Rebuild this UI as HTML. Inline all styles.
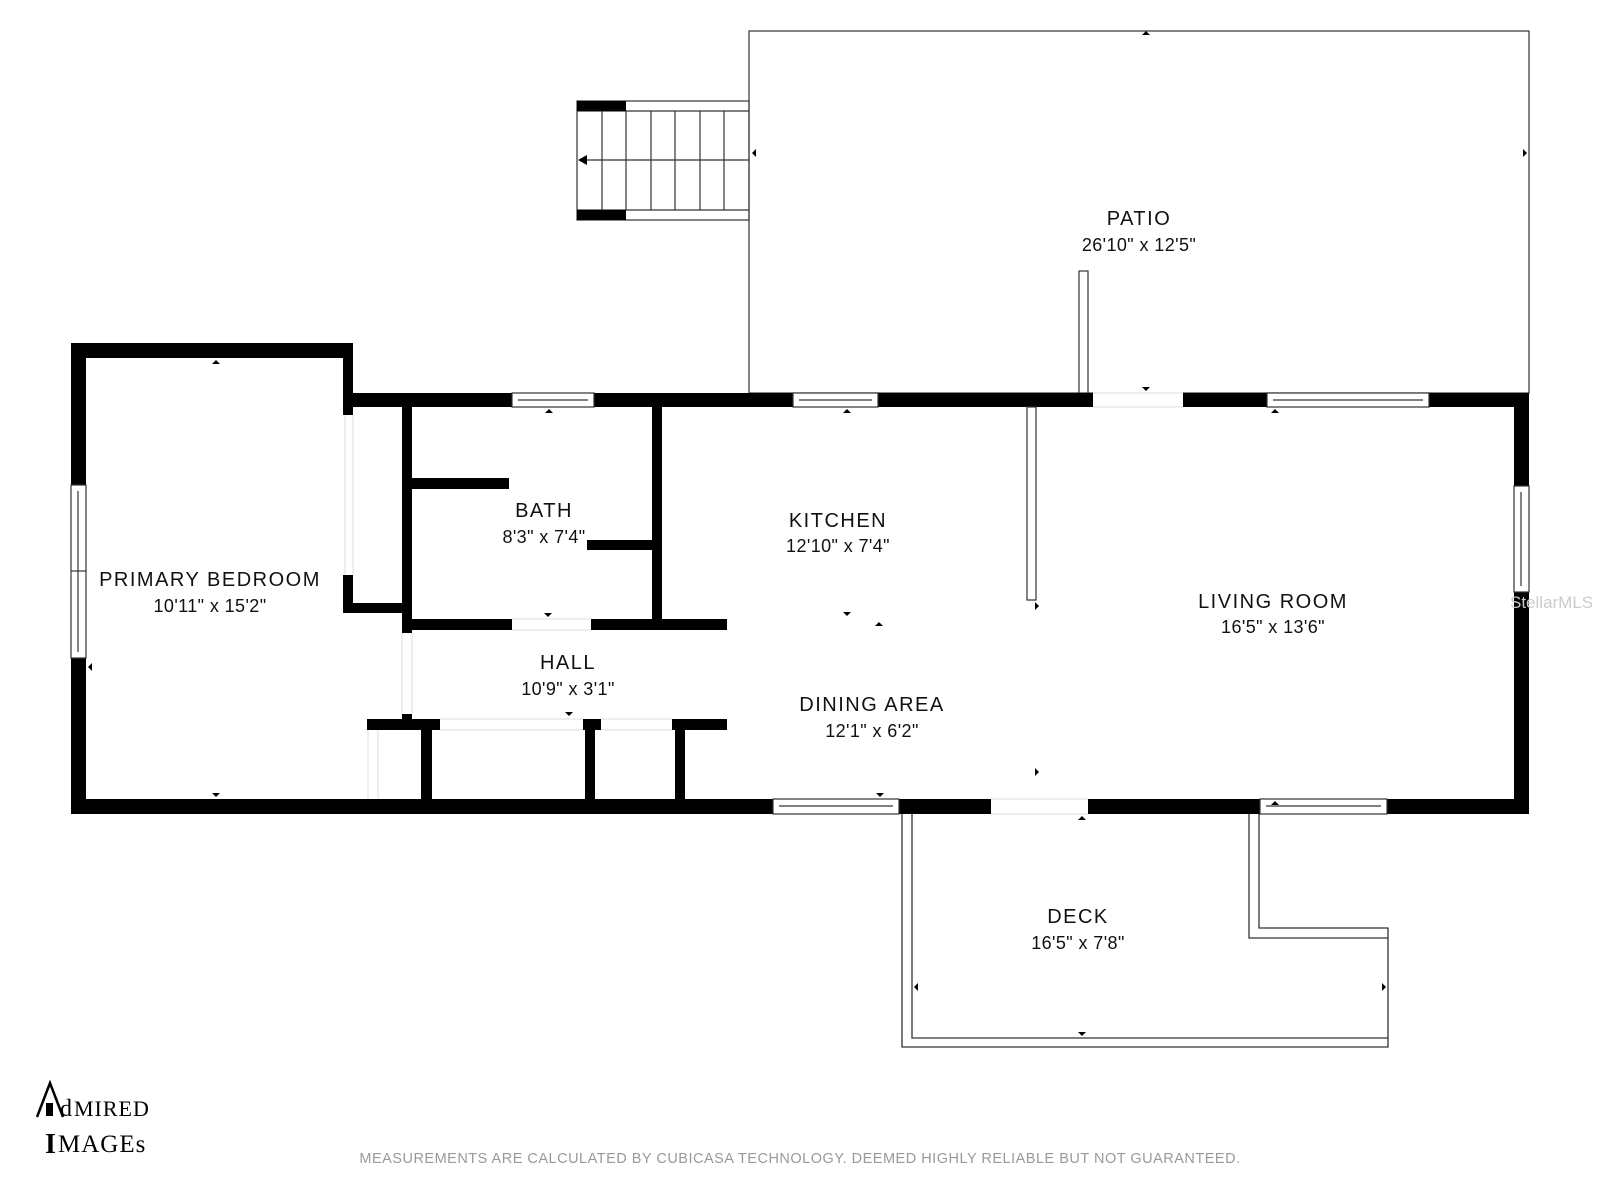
<!DOCTYPE html>
<html><head><meta charset="utf-8"><style>
html,body{margin:0;padding:0;background:#fff;}
svg{display:block;}
.l{font-family:"Liberation Sans",sans-serif;font-size:20px;letter-spacing:1.5px;fill:#111;text-anchor:middle;}
.d{font-family:"Liberation Sans",sans-serif;font-size:18px;letter-spacing:0.4px;fill:#111;text-anchor:middle;}
</style></head><body>
<svg width="1600" height="1200" viewBox="0 0 1600 1200" xmlns="http://www.w3.org/2000/svg">
<rect width="1600" height="1200" fill="#fff"/>
<!-- patio -->
<rect x="749" y="31" width="780" height="362" fill="none" stroke="#333" stroke-width="1.2"/>
<rect x="1079" y="271" width="9" height="122" fill="#fff" stroke="#333" stroke-width="1.2"/>
<!-- stairs -->
<g stroke="#333" stroke-width="1.2" fill="none">
<rect x="577" y="101" width="172" height="119"/>
<line x1="577" y1="111" x2="749" y2="111"/><line x1="577" y1="210" x2="749" y2="210"/>
<line x1="602" y1="111" x2="602" y2="210"/><line x1="626" y1="111" x2="626" y2="210"/>
<line x1="651" y1="111" x2="651" y2="210"/><line x1="675" y1="111" x2="675" y2="210"/>
<line x1="700" y1="111" x2="700" y2="210"/><line x1="724" y1="111" x2="724" y2="210"/>
<line x1="585" y1="160" x2="749" y2="160"/>
</g>
<rect x="577" y="101" width="49" height="10" fill="#000"/><rect x="577" y="210" width="49" height="10" fill="#000"/>
<polygon points="578,160 587,155 587,165" fill="#000"/>
<!-- deck -->
<g stroke="#333" stroke-width="1.3" fill="none">
<polyline points="902,814 902,1047 1388,1047 1388,928 1259,928 1259,814"/>
<polyline points="912,814 912,1038 1388,1038"/>
<polyline points="1249,814 1249,938 1388,938"/>
</g>
<!-- walls -->
<g fill="#000">
<rect x="71" y="343" width="15" height="471"/>
<rect x="71" y="343" width="282" height="15"/>
<rect x="343" y="343" width="10" height="72"/>
<rect x="343" y="393" width="1186" height="14"/>
<rect x="1514" y="393" width="15" height="421"/>
<rect x="71" y="799" width="1458" height="15"/>
<rect x="343" y="575" width="10" height="38"/>
<rect x="343" y="603" width="69" height="10"/>
<rect x="402" y="407" width="10" height="226"/>
<rect x="412" y="478" width="97" height="11"/>
<rect x="652" y="407" width="10" height="213"/>
<rect x="587" y="540" width="65" height="10"/>
<rect x="402" y="619" width="110" height="11"/>
<rect x="591" y="619" width="136" height="11"/>
<rect x="402" y="714" width="10" height="6"/>
<rect x="367" y="719" width="73" height="11"/>
<rect x="583" y="719" width="18" height="11"/>
<rect x="672" y="719" width="55" height="11"/>
<rect x="421" y="719" width="11" height="81"/>
<rect x="585" y="719" width="10" height="81"/>
<rect x="675" y="719" width="10" height="81"/>
</g>
<!-- openings (white) -->
<g fill="#fff">
<rect x="1093" y="392" width="90" height="16"/>
<rect x="991" y="798" width="97" height="17"/>
<rect x="512" y="618" width="79" height="13"/>
<rect x="344" y="415" width="9" height="160"/>
<rect x="440" y="718" width="143" height="13"/>
<rect x="601" y="718" width="71" height="13"/>
<rect x="368" y="730" width="10" height="69"/>
</g>
<g stroke="#ddd" stroke-width="1" fill="none">
<line x1="1093" y1="393" x2="1183" y2="393"/><line x1="1093" y1="407" x2="1183" y2="407"/>
<line x1="991" y1="799" x2="1088" y2="799"/><line x1="991" y1="814" x2="1088" y2="814"/>
<line x1="512" y1="619" x2="591" y2="619"/><line x1="512" y1="630" x2="591" y2="630"/>
<line x1="345" y1="415" x2="345" y2="575"/><line x1="353" y1="415" x2="353" y2="575"/>
<line x1="440" y1="719" x2="583" y2="719"/><line x1="440" y1="730" x2="583" y2="730"/>
<line x1="601" y1="719" x2="672" y2="719"/><line x1="601" y1="730" x2="672" y2="730"/>
<line x1="402" y1="633" x2="402" y2="714"/><line x1="412" y1="633" x2="412" y2="714"/>
<line x1="368" y1="730" x2="368" y2="799"/><line x1="378" y1="730" x2="378" y2="799"/>
</g>
<!-- windows -->
<g fill="#fff" stroke="#333" stroke-width="1.2">
<rect x="512" y="393" width="82" height="14"/><line x1="518" y1="400" x2="588" y2="400"/>
<rect x="793" y="393" width="85" height="14"/><line x1="799" y1="400" x2="872" y2="400"/>
<rect x="1267" y="393" width="162" height="14"/><line x1="1273" y1="400" x2="1423" y2="400"/>
<rect x="1514" y="486" width="15" height="106"/><line x1="1521" y1="492" x2="1521" y2="586"/>
<rect x="71" y="485" width="15" height="173"/><line x1="78" y1="491" x2="78" y2="652"/><line x1="71" y1="571" x2="86" y2="571"/>
<rect x="773" y="799" width="126" height="15"/><line x1="779" y1="806" x2="893" y2="806"/>
<rect x="1260" y="799" width="127" height="15"/><line x1="1266" y1="806" x2="1381" y2="806"/>
</g>
<!-- kitchen divider -->
<rect x="1027" y="407" width="9" height="193" fill="#fff" stroke="#333" stroke-width="1.2"/>
<!-- markers -->
<g fill="#000">
<polygon points="1142,31 1150,31 1146,35" transform="rotate(180 1146 33)"/>
<polygon points="216,360 212,364 220,364"/><polygon points="216,797 212,793 220,793"/>
<polygon points="549,409 545,413 553,413"/><polygon points="847,409 843,413 851,413"/>
<polygon points="1146,391 1142,387 1150,387"/><polygon points="1275,409 1271,413 1279,413"/>
<polygon points="880,797 876,793 884,793"/><polygon points="1275,801 1271,805 1279,805"/>
<polygon points="1082,816 1078,820 1086,820"/><polygon points="1082,1036 1078,1032 1086,1032"/>
<polygon points="847,616 843,612 851,612"/><polygon points="879,622 875,626 883,626"/>
<polygon points="548,617 544,613 552,613"/><polygon points="569,716 565,712 573,712"/>
<polygon points="752,153 756,149 756,157"/><polygon points="1527,153 1523,149 1523,157"/>
<polygon points="88,667 92,663 92,671"/><polygon points="914,987 918,983 918,991"/><polygon points="1386,987 1382,983 1382,991"/>
<polygon points="1035,776 1039,772 1035,768"/><polygon points="1039,606 1035,602 1035,610"/>
</g>
<!-- labels -->
<text class="l" x="1139" y="225">PATIO</text><text class="d" x="1139" y="251">26'10" x 12'5"</text>
<text class="l" x="210" y="586">PRIMARY BEDROOM</text><text class="d" x="210" y="612">10'11" x 15'2"</text>
<text class="l" x="544" y="517">BATH</text><text class="d" x="544" y="543">8'3" x 7'4"</text>
<text class="l" x="838" y="527">KITCHEN</text><text class="d" x="838" y="552">12'10" x 7'4"</text>
<text class="l" x="568" y="669">HALL</text><text class="d" x="568" y="695">10'9" x 3'1"</text>
<text class="l" x="872" y="711">DINING AREA</text><text class="d" x="872" y="737">12'1" x 6'2"</text>
<text class="l" x="1273" y="608">LIVING ROOM</text><text class="d" x="1273" y="633">16'5" x 13'6"</text>
<text class="l" x="1078" y="923">DECK</text><text class="d" x="1078" y="949">16'5" x 7'8"</text>
<text x="1510" y="608" font-family="Liberation Sans,sans-serif" font-size="17" fill="#ccc">StellarMLS</text>
<text x="800" y="1163" text-anchor="middle" font-family="Liberation Sans,sans-serif" font-size="14.5" fill="#999" letter-spacing="0.5">MEASUREMENTS ARE CALCULATED BY CUBICASA TECHNOLOGY. DEEMED HIGHLY RELIABLE BUT NOT GUARANTEED.</text>
<!-- logo -->
<polyline points="37,1117 50,1083 63,1117" fill="none" stroke="#000" stroke-width="2.5"/>
<rect x="46" y="1103" width="7" height="13" fill="#000"/>
<text x="60" y="1116" font-family="Liberation Serif,serif" font-size="24" fill="#000">d</text>
<text x="74" y="1116" font-family="Liberation Serif,serif" font-size="22" fill="#000" letter-spacing="1">MIRED</text>
<text x="45" y="1153" font-family="Liberation Serif,serif" font-size="28" font-weight="bold" fill="#000">I</text>
<text x="58" y="1152" font-family="Liberation Serif,serif" font-size="25" fill="#000" letter-spacing="1">MAGEs</text>
</svg>
</body></html>
